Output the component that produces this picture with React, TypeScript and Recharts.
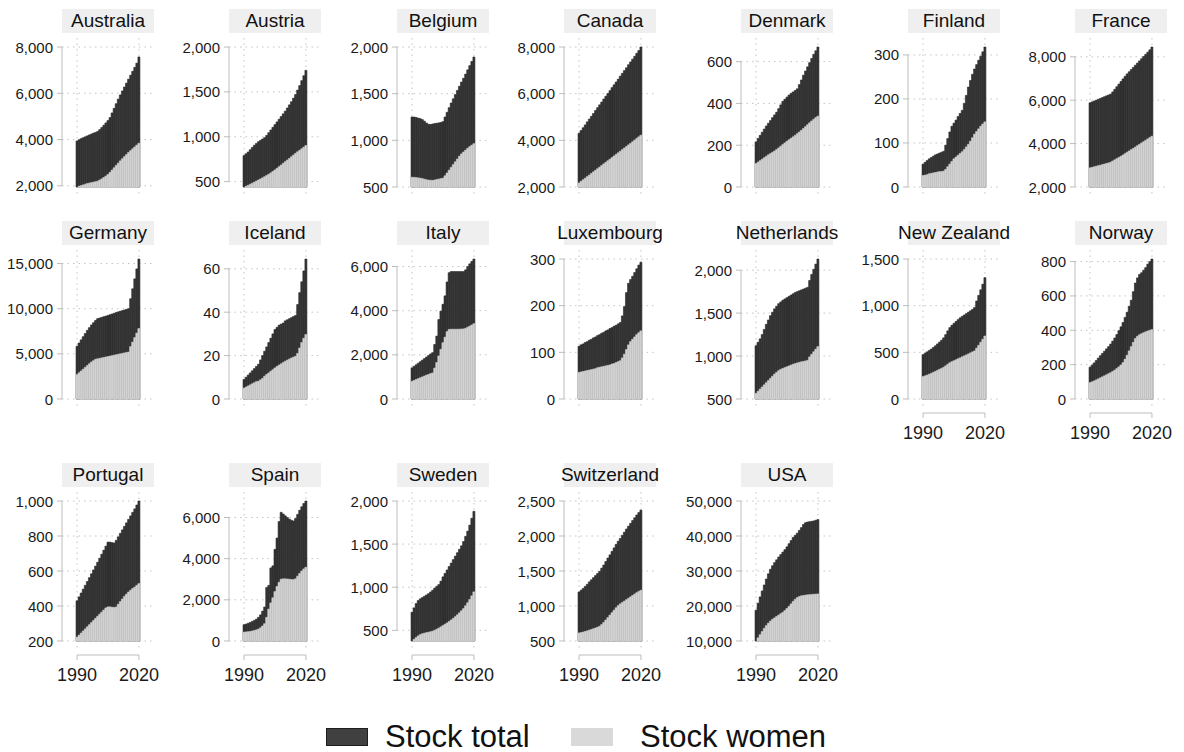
import React from 'react';
import { BarChart, Bar, XAxis, YAxis, CartesianGrid } from 'recharts';

const years = [
  1990, 1991, 1992, 1993, 1994, 1995, 1996, 1997, 1998, 1999, 2000, 2001, 2002, 2003, 2004, 2005,
  2006, 2007, 2008, 2009, 2010, 2011, 2012, 2013, 2014, 2015, 2016, 2017, 2018, 2019, 2020,
];
const xTicks = [1990, 2020];

const australiaTotal = [3940, 3990, 4040, 4080, 4120, 4160, 4200, 4240, 4280, 4310, 4350, 4430, 4520, 4620, 4720, 4820, 4950, 5150, 5350, 5550, 5750, 5930, 6100, 6270, 6440, 6610, 6780, 6950, 7120, 7300, 7570];
const australiaWomen = [1950, 1980, 2010, 2040, 2070, 2100, 2120, 2140, 2160, 2180, 2200, 2250, 2300, 2360, 2420, 2490, 2580, 2680, 2780, 2880, 2980, 3080, 3170, 3260, 3350, 3440, 3520, 3600, 3680, 3760, 3840];
const austriaTotal = [790, 810, 830, 855, 880, 905, 925, 945, 960, 975, 990, 1015, 1045, 1075, 1105, 1135, 1165, 1195, 1225, 1255, 1285, 1320, 1355, 1390, 1430, 1470, 1520, 1570, 1625, 1680, 1740];
const austriaWomen = [440, 448, 458, 470, 482, 494, 506, 518, 530, 542, 555, 568, 582, 597, 613, 630, 648, 666, 684, 703, 722, 740, 758, 777, 796, 815, 832, 849, 866, 884, 902];
const belgiumTotal = [1250, 1250, 1245, 1238, 1232, 1222, 1205, 1185, 1172, 1170, 1175, 1180, 1183, 1187, 1192, 1200, 1250, 1300, 1350, 1400, 1445, 1490, 1535, 1580, 1625, 1665, 1710, 1755, 1800, 1845, 1893];
const belgiumWomen = [604, 603, 601, 598, 595, 590, 584, 578, 574, 572, 571, 575, 580, 585, 590, 595, 620, 650, 680, 710, 740, 770, 800, 830, 855, 875, 895, 915, 932, 948, 964];
const canadaTotal = [4300, 4420, 4540, 4660, 4790, 4910, 5030, 5150, 5280, 5400, 5520, 5640, 5770, 5890, 6010, 6130, 6260, 6380, 6500, 6620, 6750, 6870, 6990, 7110, 7240, 7360, 7480, 7600, 7730, 7850, 8000];
const canadaWomen = [2170, 2240, 2310, 2375, 2445, 2510, 2580, 2650, 2715, 2785, 2850, 2920, 2990, 3055, 3125, 3190, 3260, 3330, 3395, 3465, 3530, 3600, 3670, 3735, 3805, 3870, 3940, 4010, 4080, 4150, 4220];
const denmarkTotal = [216, 232, 247, 262, 277, 292, 305, 318, 332, 345, 358, 375, 393, 410, 420, 430, 440, 448, 455, 462, 470, 490, 512, 535, 555, 575, 595, 615, 635, 652, 670];
const denmarkWomen = [112, 119, 126, 133, 140, 147, 154, 160, 166, 172, 179, 187, 195, 203, 211, 219, 226, 233, 240, 247, 255, 263, 271, 280, 289, 298, 307, 316, 324, 332, 339];
const finlandTotal = [52, 56, 60, 64, 67, 70, 73, 75, 77, 79, 81, 95, 110, 125, 138, 145, 152, 160, 167, 174, 190, 208, 227, 242, 256, 268, 278, 288, 297, 307, 318];
const finlandWomen = [26, 27, 28, 30, 31, 32, 33, 34, 35, 35, 36, 40, 46, 52, 58, 64, 68, 72, 76, 80, 85, 91, 97, 104, 112, 120, 126, 132, 138, 143, 148];
const franceTotal = [5880, 5920, 5960, 6000, 6040, 6080, 6120, 6160, 6200, 6240, 6280, 6380, 6500, 6620, 6740, 6860, 6980, 7100, 7210, 7310, 7410, 7510, 7610, 7710, 7810, 7910, 8010, 8110, 8210, 8320, 8450];
const franceWomen = [2880, 2905, 2930, 2955, 2980, 3005, 3030, 3060, 3085, 3110, 3140, 3195, 3250, 3305, 3360, 3415, 3475, 3535, 3600, 3660, 3720, 3780, 3840, 3905, 3965, 4030, 4090, 4150, 4215, 4275, 4340];
const germanyTotal = [5840, 6200, 6550, 6900, 7250, 7600, 7900, 8200, 8450, 8700, 8900, 8970, 9040, 9110, 9180, 9250, 9330, 9410, 9490, 9570, 9650, 9720, 9790, 9860, 9930, 10000, 11100, 12200, 13300, 14400, 15500];
const germanyWomen = [2700, 2900, 3100, 3300, 3500, 3700, 3900, 4100, 4250, 4400, 4450, 4500, 4550, 4600, 4650, 4700, 4750, 4800, 4850, 4900, 4950, 5000, 5050, 5100, 5150, 5200, 5800, 6300, 6800, 7300, 7800];
const icelandTotal = [9, 10, 11, 12, 13, 14, 15, 16, 18, 20, 22, 24, 26, 28, 30, 32, 33, 34, 34.5, 35, 36, 36.5, 37, 37.5, 38, 38.5, 43.5, 49, 54, 59, 64.5];
const icelandWomen = [5, 5.5, 6, 6.5, 7, 7.5, 8, 8.2, 8.8, 9.5, 10.5, 11.3, 12, 12.8, 13.5, 14.3, 15, 15.6, 16.2, 16.8, 17.4, 17.9, 18.4, 18.9, 19.3, 19.7, 21, 23.5, 26, 28, 29.7];
const italyTotal = [1410, 1480, 1550, 1620, 1690, 1760, 1830, 1900, 1970, 2040, 2100, 2470, 2850, 3600, 3980, 4290, 4670, 5300, 5720, 5770, 5770, 5770, 5770, 5770, 5770, 5770, 5850, 6000, 6120, 6230, 6340];
const italyWomen = [800, 840, 880, 920, 960, 1000, 1040, 1080, 1110, 1150, 1180, 1400, 1650, 1950, 2250, 2550, 2800, 3050, 3150, 3160, 3160, 3160, 3160, 3165, 3170, 3175, 3200, 3250, 3300, 3350, 3410];
const luxembourgTotal = [113, 116, 118, 121, 123, 126, 128, 131, 133, 136, 138, 141, 143, 146, 148, 151, 153, 156, 158, 161, 164, 178, 198, 228, 248, 256, 263, 271, 279, 287, 293];
const luxembourgWomen = [57, 58, 59, 60, 61, 62, 63, 64, 65, 67, 68, 69, 70, 71, 72, 73, 75, 76, 78, 80, 82, 88, 96, 106, 116, 123, 128, 133, 138, 142, 146];
const netherlandsTotal = [1120, 1160, 1200, 1250, 1310, 1370, 1420, 1470, 1510, 1550, 1580, 1610, 1630, 1650, 1665, 1680, 1695, 1710, 1725, 1740, 1750, 1760, 1770, 1780, 1790, 1800, 1880, 1950, 2010, 2070, 2130];
const netherlandsWomen = [565, 590, 615, 640, 665, 690, 715, 740, 765, 790, 810, 830, 845, 855, 865, 875, 885, 895, 905, 912, 920, 927, 933, 938, 943, 950, 990, 1020, 1050, 1080, 1110];
const newZealandTotal = [475, 490, 505, 520, 535, 552, 570, 590, 610, 630, 655, 690, 730, 765, 790, 810, 830, 850, 870, 885, 900, 915, 930, 945, 960, 980, 1050, 1110, 1170, 1230, 1300];
const newZealandWomen = [240, 248, 256, 265, 275, 285, 296, 307, 318, 328, 340, 355, 372, 388, 400, 410, 420, 431, 441, 452, 462, 472, 483, 494, 505, 515, 545, 575, 608, 640, 675];
const norwayTotal = [185, 197, 210, 224, 238, 252, 265, 278, 292, 305, 320, 337, 355, 375, 398, 420, 445, 475, 505, 540, 575, 625, 675, 705, 725, 735, 750, 765, 785, 800, 815];
const norwayWomen = [95, 100, 105, 111, 117, 123, 129, 135, 141, 147, 153, 160, 168, 177, 187, 198, 212, 232, 255, 280, 305, 330, 352, 365, 374, 380, 386, 391, 396, 400, 404];
const portugalTotal = [430, 452, 474, 496, 518, 540, 562, 584, 606, 628, 650, 673, 696, 719, 742, 765, 765, 762, 760, 775, 795, 815, 835, 855, 875, 895, 915, 935, 955, 977, 1000];
const portugalWomen = [222, 233, 245, 257, 269, 281, 293, 305, 317, 329, 341, 353, 365, 377, 389, 395, 395, 393, 392, 394, 410, 425, 440, 455, 468, 480, 490, 500, 508, 518, 528];
const spainTotal = [790, 820, 860, 900, 950, 1000, 1060, 1150, 1270, 1450, 1650, 2600, 2700, 3550, 3650, 4450, 5000, 5800, 6250, 6170, 6080, 6000, 5920, 5860, 5830, 5950, 6150, 6350, 6520, 6680, 6800];
const spainWomen = [430, 440, 450, 465, 485, 510, 540, 580, 640, 730, 840, 1150, 1550, 1850, 2100, 2400, 2650, 2850, 3000, 3020, 3020, 3010, 3000, 2990, 2980, 3020, 3150, 3280, 3400, 3500, 3580];
const swedenTotal = [710, 760, 810, 845, 865, 880, 895, 910, 925, 945, 965, 990, 1010, 1030, 1070, 1120, 1160, 1200, 1240, 1280, 1320, 1360, 1400, 1440, 1480, 1530, 1590, 1650, 1720, 1800, 1880];
const swedenWomen = [376, 395, 415, 435, 450, 460, 467, 473, 478, 483, 490, 500, 512, 525, 540, 555, 570, 585, 602, 620, 638, 658, 680, 703, 727, 752, 785, 820, 858, 900, 946];
const switzerlandTotal = [1200, 1225, 1250, 1280, 1310, 1345, 1375, 1405, 1435, 1465, 1495, 1540, 1585, 1635, 1685, 1730, 1780, 1830, 1880, 1925, 1965, 2010, 2055, 2100, 2140, 2180, 2220, 2260, 2300, 2335, 2370];
const switzerlandWomen = [615, 620, 628, 636, 645, 655, 665, 675, 686, 697, 710, 735, 765, 800, 835, 870, 905, 940, 975, 1005, 1030, 1050, 1070, 1090, 1110, 1130, 1150, 1170, 1190, 1208, 1225];
const usaTotal = [18800, 20800, 22600, 24300, 26000, 27700, 29200, 30500, 31500, 32400, 33200, 34000, 34700, 35400, 36100, 36900, 37800, 38700, 39600, 40200, 40800, 41600, 42400, 43300, 43800, 44000, 44100, 44200, 44300, 44500, 44700];
const usaWomen = [10000, 10900, 11800, 12700, 13600, 14400, 15100, 15700, 16200, 16600, 17000, 17400, 17800, 18200, 18700, 19300, 19900, 20600, 21300, 21900, 22400, 22700, 22900, 23000, 23100, 23200, 23250, 23300, 23350, 23400, 23450];

const panels = [
  { name: 'Australia', total: australiaTotal, women: australiaWomen, ticks: [2000, 4000, 6000, 8000] },
  { name: 'Austria', total: austriaTotal, women: austriaWomen, ticks: [500, 1000, 1500, 2000] },
  { name: 'Belgium', total: belgiumTotal, women: belgiumWomen, ticks: [500, 1000, 1500, 2000] },
  { name: 'Canada', total: canadaTotal, women: canadaWomen, ticks: [2000, 4000, 6000, 8000] },
  { name: 'Denmark', total: denmarkTotal, women: denmarkWomen, ticks: [0, 200, 400, 600] },
  { name: 'Finland', total: finlandTotal, women: finlandWomen, ticks: [0, 100, 200, 300] },
  { name: 'France', total: franceTotal, women: franceWomen, ticks: [2000, 4000, 6000, 8000] },
  { name: 'Germany', total: germanyTotal, women: germanyWomen, ticks: [0, 5000, 10000, 15000] },
  { name: 'Iceland', total: icelandTotal, women: icelandWomen, ticks: [0, 20, 40, 60] },
  { name: 'Italy', total: italyTotal, women: italyWomen, ticks: [0, 2000, 4000, 6000] },
  { name: 'Luxembourg', total: luxembourgTotal, women: luxembourgWomen, ticks: [0, 100, 200, 300] },
  { name: 'Netherlands', total: netherlandsTotal, women: netherlandsWomen, ticks: [500, 1000, 1500, 2000] },
  { name: 'New Zealand', total: newZealandTotal, women: newZealandWomen, ticks: [0, 500, 1000, 1500] },
  { name: 'Norway', total: norwayTotal, women: norwayWomen, ticks: [0, 200, 400, 600, 800] },
  { name: 'Portugal', total: portugalTotal, women: portugalWomen, ticks: [200, 400, 600, 800, 1000] },
  { name: 'Spain', total: spainTotal, women: spainWomen, ticks: [0, 2000, 4000, 6000] },
  { name: 'Sweden', total: swedenTotal, women: swedenWomen, ticks: [500, 1000, 1500, 2000] },
  { name: 'Switzerland', total: switzerlandTotal, women: switzerlandWomen, ticks: [500, 1000, 1500, 2000, 2500] },
  { name: 'USA', total: usaTotal, women: usaWomen, ticks: [10000, 20000, 30000, 40000, 50000] },
];

const FONT = '"Liberation Sans", Arial, Helvetica, sans-serif';
const COL_X = [62, 229, 397, 564, 741, 908, 1075];
const ROW_TOP = [47, 259, 501];
const PLOT_H = 140;
const PAD_T = 9;
const PAD_B = 8;
const AXIS_W = 60;
const PANEL_W = 92;
const RIGHT_M = 26;
const X_PAD = 13;
const X_AXIS_H = 37;
const AXIS_GREY = '#bdbdbd';
// px per year on the x scale (domain 1989..2021)
const X_STEP = (PANEL_W - 2 * X_PAD) / 32;
const X_SPAN = X_STEP * 30;

function Panel({ panel, left, top, showX }: any) {
  const data = years.map((year, i) => ({ year, total: panel.total[i], women: panel.women[i] }));
  const ticks: number[] = panel.ticks;
  const lo = Math.min(ticks[0], ...panel.women);
  const hi = Math.max(ticks[ticks.length - 1], ...panel.total);
  const axisLen = ((ticks[ticks.length - 1] - ticks[0]) / (hi - lo)) * PLOT_H;
  const dataBottom = PAD_T + PLOT_H;

  const renderYTick = (props: any) => {
    const { y, payload } = props;
    return (
      <g>
        {payload.value === ticks[0] && (
          <line x1={AXIS_W} x2={AXIS_W} y1={y} y2={y - axisLen} stroke={AXIS_GREY} />
        )}
        <line x1={AXIS_W - 5} x2={AXIS_W} y1={y} y2={y} stroke={AXIS_GREY} />
        <text
          x={AXIS_W - 9}
          y={y}
          textAnchor="end"
          dominantBaseline="central"
          fontSize={15}
          fontFamily={FONT}
          fill="#1a1a1a"
        >
          {payload.value.toLocaleString('en-US')}
        </text>
      </g>
    );
  };

  const renderXTick = (props: any) => {
    const { x, payload } = props;
    const lineY = dataBottom + 14;
    return (
      <g>
        {payload.value === xTicks[0] && (
          <line x1={x} x2={x + X_SPAN} y1={lineY} y2={lineY} stroke={AXIS_GREY} />
        )}
        <line x1={x} x2={x} y1={lineY} y2={lineY + 5} stroke={AXIS_GREY} />
        <text
          x={x}
          y={dataBottom + 33.5}
          textAnchor="middle"
          dominantBaseline="central"
          fontSize={18}
          fontFamily={FONT}
          fill="#1a1a1a"
        >
          {payload.value}
        </text>
      </g>
    );
  };

  // grid lines only at the tick values, not at the plot edges
  const vGrid = ({ offset }: any) =>
    xTicks.map((t) => offset.left + X_PAD + (t - 1989) * X_STEP);
  const hGrid = ({ offset }: any) =>
    ticks.map((t) => offset.top + PAD_T + ((hi - t) / (hi - lo)) * PLOT_H);

  return (
    <>
      <div
        style={{
          position: 'absolute',
          left,
          top: top - 38,
          width: PANEL_W,
          height: 24,
          background: '#efefef',
          display: 'flex',
          justifyContent: 'center',
          alignItems: 'center',
          whiteSpace: 'nowrap',
          fontSize: 19,
          color: '#111',
        }}
      >
        <span>{panel.name}</span>
      </div>
      <div style={{ position: 'absolute', left: left - AXIS_W, top: top - PAD_T }}>
        <BarChart
          width={AXIS_W + PANEL_W + RIGHT_M}
          height={PAD_T + PLOT_H + PAD_B + X_AXIS_H}
          data={data}
          margin={{ top: 0, right: RIGHT_M, bottom: 0, left: 0 }}
          barCategoryGap={0}
          barGap="-100%"
        >
          <CartesianGrid
            stroke="#c4c4c4"
            strokeDasharray="1.5 4"
            verticalCoordinatesGenerator={vGrid}
            horizontalCoordinatesGenerator={hGrid}
          />
          <XAxis
            dataKey="year"
            type="number"
            domain={[1989, 2021]}
            ticks={xTicks}
            interval={0}
            padding={{ left: X_PAD, right: X_PAD }}
            height={X_AXIS_H}
            axisLine={false}
            tickLine={false}
            tick={showX ? renderXTick : false}
          />
          <YAxis
            type="number"
            domain={[lo, hi]}
            ticks={ticks}
            interval={0}
            width={AXIS_W}
            padding={{ top: PAD_T, bottom: PAD_B }}
            axisLine={false}
            tickLine={false}
            tick={renderYTick}
          />
          <Bar dataKey="total" fill="#343434" stroke="#262626" strokeWidth={0.6} isAnimationActive={false} />
          <Bar dataKey="women" fill="#d4d4d4" stroke="#c9c9c9" strokeWidth={0.6} isAnimationActive={false} />
        </BarChart>
      </div>
    </>
  );
}

export default function App() {
  return (
    <div
      style={{
        position: 'absolute',
        left: 0,
        top: 0,
        width: 1184,
        height: 752,
        background: '#fff',
        fontFamily: FONT,
      }}
    >
      {panels.map((p, i) => {
        const col = i % 7;
        const row = Math.floor(i / 7);
        const showX = row === 2 || (row === 1 && col >= 5);
        return <Panel key={p.name} panel={p} left={COL_X[col]} top={ROW_TOP[row]} showX={showX} />;
      })}
      <div style={{ position: 'absolute', left: 326, top: 728, width: 40, height: 16, background: '#404040', border: '1px solid #1e1e1e' }} />
      <div style={{ position: 'absolute', left: 385, top: 719, fontSize: 31, lineHeight: '36px', color: '#111' }}>
        Stock total
      </div>
      <div style={{ position: 'absolute', left: 571, top: 728, width: 42, height: 18, background: '#d9d9d9' }} />
      <div style={{ position: 'absolute', left: 640, top: 719, fontSize: 31, lineHeight: '36px', color: '#111' }}>
        Stock women
      </div>
    </div>
  );
}
